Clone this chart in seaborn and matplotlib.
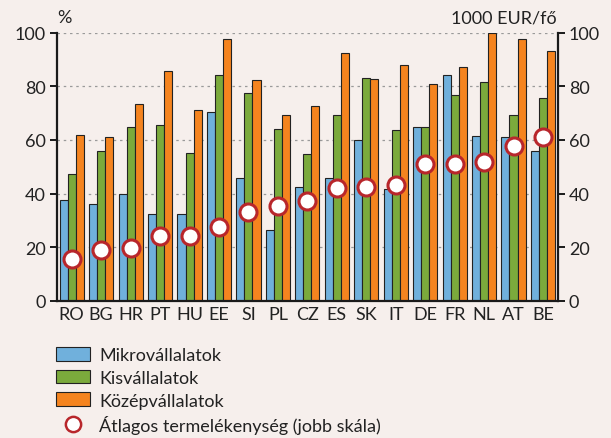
import matplotlib
matplotlib.use("Agg")
import matplotlib.pyplot as plt
from matplotlib.patches import Patch
from matplotlib.lines import Line2D
import seaborn as sns
import pandas as pd
import numpy as np

countries = ["RO", "BG", "HR", "PT", "HU", "EE", "SI", "PL", "CZ", "ES", "SK", "IT", "DE", "FR", "NL", "AT", "BE"]
micro = [37.7, 36.2, 39.8, 32.5, 32.5, 70.3, 45.9, 26.4, 42.4, 45.9, 60.0, 41.8, 64.7, 84.2, 61.6, 60.9, 55.8]
small = [47.1, 55.7, 65.0, 65.5, 55.2, 84.1, 77.4, 64.1, 54.7, 69.2, 83.2, 63.6, 64.7, 76.9, 81.6, 69.2, 75.5]
medium = [61.9, 60.9, 73.3, 85.8, 71.3, 97.6, 82.2, 69.2, 72.8, 92.5, 82.7, 87.8, 81.0, 87.3, 100.0, 97.6, 93.0]
productivity = [15.5, 19.0, 19.7, 24.0, 24.3, 27.5, 33.0, 35.2, 37.2, 41.9, 42.4, 43.2, 51.1, 51.1, 51.6, 57.8, 61.2]
series_names = ["Mikrovállalatok", "Kisvállalatok", "Középvállalatok"]
dot_label = "Átlagos termelékenység (jobb skála)"
yticks = [0, 20, 40, 60, 80, 100]

colors = ["#70B0DC", "#7BAA3C", "#F5841F"]
bg = "#F6EFEC"
dot_edge = "#B8262B"

df = pd.DataFrame({
    "country": countries * 3,
    "value": micro + small + medium,
    "series": sum([[s] * len(countries) for s in series_names], []),
})
df_dot = pd.DataFrame({"country": countries, "prod": productivity})

sns.set_style("white")
plt.rcParams['font.family'] = ['Lato', 'DejaVu Sans']
FS = 13

fig = plt.figure(figsize=(6.11, 4.39), dpi=100, facecolor=bg)
ax = fig.add_axes([57/611, 1-301.7/439, (557.7-57)/611, (301.7-33.7)/439])
ax.set_facecolor(bg)

sns.barplot(data=df, x="country", y="value", hue="series", palette=colors,
            width=0.82, gap=0, edgecolor="#222222", linewidth=0.8, ax=ax,
            legend=False, saturation=1)

ax.set_ylim(0, 100)
ax.set_xlim(-0.5, len(countries) - 0.5)
ax.set_yticks(yticks)
ax.set_xlabel("")
ax.set_ylabel("")
for y in yticks[1:]:
    ax.axhline(y, color="#9a9a9a", linestyle=(0, (2, 3)), linewidth=0.9, zorder=0)

ax2 = ax.twinx()
ax2.set_ylim(0, 100)
ax2.set_yticks(yticks)
sns.scatterplot(data=df_dot, x="country", y="prod", ax=ax2, s=150,
                color="white", edgecolor=dot_edge, linewidth=2.2, zorder=5, legend=False)
ax2.set_ylabel("")
ax2.set_xlim(-0.5, len(countries) - 0.5)

for a in (ax, ax2):
    for s in a.spines.values():
        s.set_visible(False)
ax.spines["left"].set_visible(True)
ax.spines["bottom"].set_visible(True)
ax2.spines["right"].set_visible(True)
for s in [ax.spines["left"], ax.spines["bottom"], ax2.spines["right"]]:
    s.set_color("#1a1a1a")
    s.set_linewidth(1.6)

ax.tick_params(axis="y", direction="out", length=5, width=1.4, color="#1a1a1a",
               labelsize=FS, labelcolor="#222222", pad=3)
ax2.tick_params(axis="y", direction="out", length=5, width=1.4, color="#1a1a1a",
                labelsize=FS, labelcolor="#222222", pad=3)
ax.tick_params(axis="x", which="major", length=0, labelsize=FS, labelcolor="#222222", pad=4)
ax.set_xticks(np.arange(-0.5, len(countries)), minor=True)
ax.tick_params(axis="x", which="minor", direction="out", length=5, width=1.4, color="#1a1a1a")

fig.text(57/611, 1-18/439, "%", ha="left", va="center", fontsize=FS, color="#222222")
fig.text(557/611, 1-18/439, "1000 EUR/fő", ha="right", va="center", fontsize=FS, color="#222222")

handles = [Patch(facecolor=c, edgecolor="#222222", linewidth=0.8) for c in colors]
handles.append(Line2D([], [], marker="o", linestyle="none", markersize=11,
                      markerfacecolor="white", markeredgecolor=dot_edge, markeredgewidth=1.8))
fig.legend(handles, series_names + [dot_label], loc="upper left",
           bbox_to_anchor=(56/611, 1-348/439), frameon=False, fontsize=FS,
           handlelength=1.9, handleheight=0.8, labelspacing=0.36, handletextpad=0.5,
           borderpad=0, borderaxespad=0, labelcolor="#222222")

fig.savefig("out.png", dpi=100, facecolor=bg)
